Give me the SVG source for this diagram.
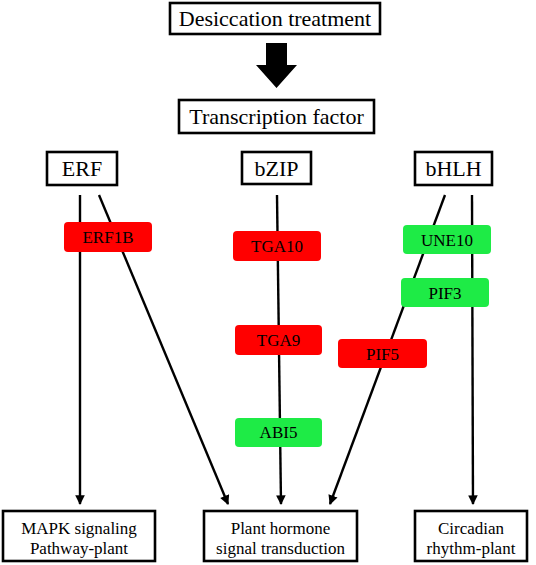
<svg xmlns="http://www.w3.org/2000/svg" width="536" height="565" viewBox="0 0 536 565">
<defs>
<style>
.box{fill:#fff;stroke:#000;stroke-width:2.6}
.t{font-family:"Liberation Serif","Times New Roman","DejaVu Serif",serif;fill:#000;text-anchor:middle}
.big{font-size:22px}
.mid{font-size:17px}
.red{fill:#ff0000}
.green{fill:#1eeb46}
.arr{stroke:#000;stroke-width:2.4;fill:none;marker-end:url(#ah)}
</style>
<marker id="ah" viewBox="0 0 10 10" refX="9" refY="5" markerWidth="4.2" markerHeight="4" orient="auto" markerUnits="strokeWidth">
<path d="M0,0 L10,5 L0,10 z" fill="#000"/>
</marker>
</defs>
<rect width="536" height="565" fill="#fff"/>
<g id="connectors">
<polygon points="266,43 287,43 287,65 297,65 276.5,88 256,65 266,65" fill="#000"/>
<line class="arr" x1="80" y1="195" x2="80" y2="504"/>
<line class="arr" x1="99" y1="195" x2="228" y2="504"/>
<line class="arr" x1="277" y1="195" x2="281" y2="504"/>
<line class="arr" x1="445" y1="195" x2="330" y2="504"/>
<line class="arr" x1="472" y1="195" x2="473" y2="504"/>
</g>
<g id="desiccation">
<rect class="box" x="170" y="3" width="210" height="31"/>
<text class="t big" font-family="Liberation Serif, serif" x="275" y="26">Desiccation treatment</text>
</g>
<g id="transcription">
<rect class="box" x="179" y="100" width="195" height="33"/>
<text class="t big" font-family="Liberation Serif, serif" x="276.500" y="124">Transcription factor</text>
</g>
<g id="erf">
<rect class="box" x="47" y="152" width="70" height="33"/>
<text class="t big" font-family="Liberation Serif, serif" x="82" y="176">ERF</text>
</g>
<g id="bzip">
<rect class="box" x="242" y="152" width="69" height="32"/>
<text class="t big" font-family="Liberation Serif, serif" x="276.500" y="176">bZIP</text>
</g>
<g id="bhlh">
<rect class="box" x="415" y="152" width="77" height="33"/>
<text class="t big" font-family="Liberation Serif, serif" x="453.500" y="176">bHLH</text>
</g>
<g id="erf1b">
<rect class="red" x="64" y="222" width="88" height="30" rx="4"/>
<text class="t mid" x="108" y="243">ERF1B</text>
</g>
<g id="tga10">
<rect class="red" x="233" y="231" width="88" height="30" rx="4"/>
<text class="t mid" x="277" y="252">TGA10</text>
</g>
<g id="tga9">
<rect class="red" x="235" y="325" width="87" height="30" rx="4"/>
<text class="t mid" x="278.500" y="346">TGA9</text>
</g>
<g id="abi5">
<rect class="green" x="235" y="418" width="87" height="29" rx="4"/>
<text class="t mid" x="278.500" y="438">ABI5</text>
</g>
<g id="une10">
<rect class="green" x="403" y="225" width="88" height="29" rx="4"/>
<text class="t mid" x="447" y="246">UNE10</text>
</g>
<g id="pif3">
<rect class="green" x="401" y="278" width="88" height="29" rx="4"/>
<text class="t mid" x="445" y="299">PIF3</text>
</g>
<g id="pif5">
<rect class="red" x="338" y="339" width="89" height="29" rx="4"/>
<text class="t mid" x="382.500" y="360">PIF5</text>
</g>
<g id="mapk">
<rect class="box" x="3" y="511" width="152" height="50"/>
<text class="t mid" x="79" y="534">MAPK  signaling</text>
<text class="t mid" x="79" y="554">Pathway-plant</text>
</g>
<g id="hormone">
<rect class="box" x="204" y="511" width="153" height="50"/>
<text class="t mid" x="280.500" y="534">Plant  hormone</text>
<text class="t mid" x="280.500" y="554">signal  transduction</text>
</g>
<g id="circadian">
<rect class="box" x="415" y="511" width="112" height="50"/>
<text class="t mid" x="471" y="534">Circadian</text>
<text class="t mid" x="471" y="554">rhythm-plant</text>
</g>
</svg>
